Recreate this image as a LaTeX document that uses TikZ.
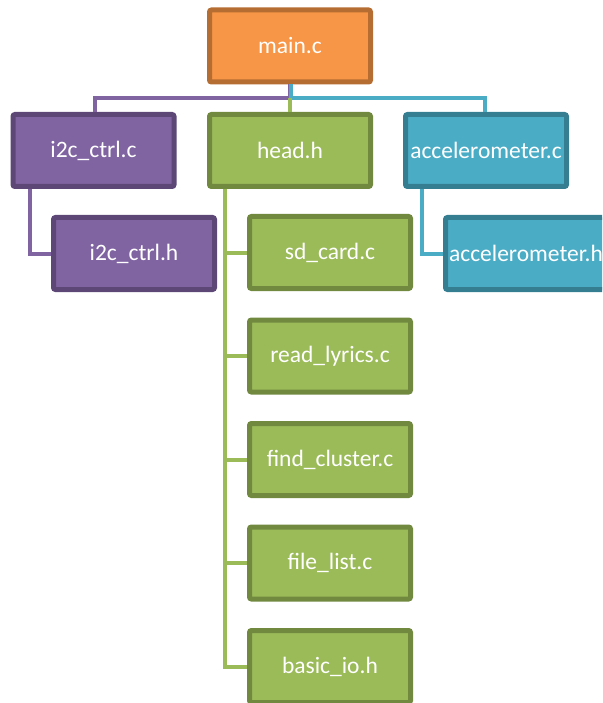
\documentclass[tikz,border=0pt]{standalone}
\usepackage{fontspec}
\setmainfont{Carlito}
\definecolor{ofill}{HTML}{F79646}
\definecolor{oline}{HTML}{B66D31}
\definecolor{pfill}{HTML}{8064A2}
\definecolor{pline}{HTML}{5C4776}
\definecolor{gfill}{HTML}{9BBB59}
\definecolor{gline}{HTML}{71893F}
\definecolor{cfill}{HTML}{4BACC6}
\definecolor{cline}{HTML}{357D91}
\begin{document}
\begin{tikzpicture}[x=1pt,y=-1pt,
  box/.style={draw, line width=5pt, rounded corners=2pt, minimum width=161pt, minimum height=72pt,
    inner sep=0pt, text=white, font=\fontsize{23.5}{28}\selectfont},
  obox/.style={box, fill=ofill, draw=oline},
  pbox/.style={box, fill=pfill, draw=pline},
  gbox/.style={box, fill=gfill, draw=gline},
  cbox/.style={box, fill=cfill, draw=cline},
  pcon/.style={draw=pfill, line width=4pt},
  gcon/.style={draw=gfill, line width=4pt},
  ccon/.style={draw=cfill, line width=4pt}]
\useasboundingbox (0,0) rectangle (602,703);
\clip (0,0) rectangle (602,703);
\coordinate (bus) at (290,98);
\node[obox] (main) at (290,46) {main.c};
\node[pbox] (i2cc) at (93.5,150.5) {i2c\_ctrl.c};
\node[gbox] (head) at (290,150.5) {head.h};
\node[cbox] (accc) at (486,150.5) {accelerometer.c};
\node[pbox] (i2ch) at (134,253.5) {i2c\_ctrl.h};
\node[cbox] (acch) at (526,253.5) {accelerometer.h};
\node[gbox] (sd) at (330,252.5) {sd\_card.c};
\node[gbox] (rl) at (330,356) {read\_lyrics.c};
\node[gbox] (fc) at (330,459.5) {find\_cluster.c};
\node[gbox] (fl) at (330,563) {file\_list.c};
\node[gbox] (bio) at (330,666.5) {basic\_io.h};
\draw[pcon] (main.south) -- (bus) -| ([xshift=1.5pt]i2cc.north);
\draw[ccon] ([xshift=1pt]main.south) |- ([xshift=1pt]bus) -| ([xshift=-1pt]accc.north);
\draw[gcon] (bus) -- (head.north);
\draw[pcon] ([xshift=-63.5pt]i2cc.south) |- (i2ch.west);
\draw[ccon] ([xshift=-64pt]accc.south) |- (acch.west);
\coordinate (spine) at ([xshift=-65pt]head.south);
\draw[gcon] (spine) |- (bio.west);
\draw[gcon] (sd.west) -- (sd.west -| spine);
\draw[gcon] (rl.west) -- (rl.west -| spine);
\draw[gcon] (fc.west) -- (fc.west -| spine);
\draw[gcon] (fl.west) -- (fl.west -| spine);
\end{tikzpicture}
\end{document}
